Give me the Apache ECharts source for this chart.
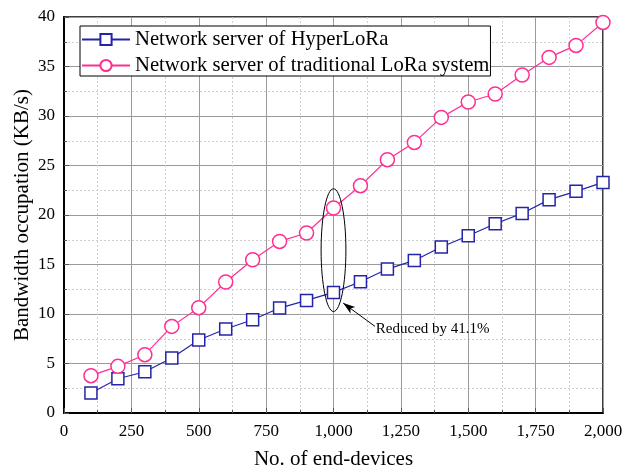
<!DOCTYPE html>
<html><head><meta charset="utf-8">
<script src="https://cdn.jsdelivr.net/npm/echarts@6/dist/echarts.min.js"></script>
<style>html,body{margin:0;padding:0;background:#fff}#c{width:634px;height:470px}</style>
</head><body><div id="c"></div>
<script>
const devices = [100,200,300,400,500,600,700,800,900,1000,1100,1200,1300,1400,1500,1600,1700,1800,1900,2000];
const hyperLoRa = [2.02,3.46,4.17,5.55,7.37,8.48,9.42,10.6,11.37,12.18,13.26,14.54,15.41,16.77,17.91,19.12,20.16,21.55,22.39,23.29];
const traditional = [3.77,4.71,5.89,8.75,10.64,13.23,15.48,17.33,18.18,20.71,22.96,25.59,27.33,29.86,31.41,32.22,34.14,35.92,37.13,39.45];
const seriesNames = ['Network server of HyperLoRa','Network server of traditional LoRa system'];
// annotation (data coordinates)
const ellipseCenter = [1000, 16.45];
const ellipseRadius = [46, 6.2];
const arrowFrom = [1154, 8.75];
const arrowTo = [1036, 11.1];
const noteText = 'Reduced by 41.1%';
const notePos = [1157, 8.5];

const FONT = "'Liberation Serif','Times New Roman',serif";
const chart = echarts.init(document.getElementById('c'), null, {renderer:'canvas'});
const fmt = v => v.toLocaleString('en-US');
const axisCommon = {
  axisLine:{show:true,lineStyle:{color:'#000',width:2}},
  axisTick:{show:true,inside:true,length:5,lineStyle:{color:'#555',width:1}},
  minorTick:{show:true,splitNumber:2,length:3,lineStyle:{color:'#555'}},
  splitLine:{show:true,lineStyle:{color:'#9a9a9a',width:1}},
  minorSplitLine:{show:true,lineStyle:{color:'#cfcfcf',width:1,type:[2,2]}},
  nameLocation:'middle',
  nameMoveOverlap:false,
  nameTextStyle:{fontFamily:FONT,fontSize:21,color:'#000'}
};
chart.setOption({
  animation:false,
  backgroundColor:'#fff',
  grid:{left:64,right:31,top:17,bottom:57,containLabel:false,outerBoundsMode:'none',show:true,borderColor:'#000',borderWidth:1.5,backgroundColor:'transparent'},
  legend:{
    left:80,top:26,orient:'vertical',itemWidth:48,itemHeight:14,itemGap:5,
    padding:[3,1,0,1],borderColor:'#000',borderWidth:1,backgroundColor:'#fff',
    textStyle:{fontFamily:FONT,fontSize:20.7,color:'#000'},
    data:seriesNames
  },
  xAxis:Object.assign({},axisCommon,{
    type:'value',min:0,max:2000,interval:250,name:'No. of end-devices',nameGap:36,
    axisLabel:{fontFamily:FONT,fontSize:17,color:'#000',margin:10,formatter:fmt}
  }),
  yAxis:Object.assign({},axisCommon,{
    type:'value',min:0,max:40,interval:5,name:'Bandwidth occupation (KB/s)',nameGap:31,
    axisLabel:{fontFamily:FONT,fontSize:17,color:'#000',margin:9}
  }),
  series:[
    {name:seriesNames[0],type:'line',data:devices.map((d,i)=>[d,hyperLoRa[i]]),
     symbol:'rect',symbolSize:12,color:'#2424a8',
     lineStyle:{width:1.2,color:'#2424a8'},itemStyle:{color:'#fff',borderColor:'#2424a8',borderWidth:1.5},z:3},
    {name:seriesNames[1],type:'line',data:devices.map((d,i)=>[d,traditional[i]]),
     symbol:'circle',symbolSize:14,color:'#ff2f92',
     lineStyle:{width:1.2,color:'#ff2f92'},itemStyle:{color:'#fff',borderColor:'#ff2f92',borderWidth:1.5},z:3,
     markLine:{silent:true,symbol:['none','arrow'],symbolSize:[6,12],label:{show:false},
       lineStyle:{color:'#000',width:1,type:'solid'},
       data:[[{coord:arrowFrom},{coord:arrowTo}]]}
    }
  ]
});
function drawAnno(){
  const c = chart.convertToPixel({gridIndex:0}, ellipseCenter);
  const e1 = chart.convertToPixel({gridIndex:0}, [ellipseCenter[0]+ellipseRadius[0], ellipseCenter[1]+ellipseRadius[1]]);
  const t = chart.convertToPixel({gridIndex:0}, notePos);
  chart.setOption({graphic:[
    {type:'ellipse',shape:{cx:c[0],cy:c[1],rx:Math.abs(e1[0]-c[0]),ry:Math.abs(c[1]-e1[1])},
     style:{fill:'none',stroke:'#000',lineWidth:1},z:10},
    {type:'text',x:t[0],y:t[1],style:{text:noteText,font:"15px "+FONT,fill:'#000',textVerticalAlign:'middle',textAlign:'left'},z:10}
  ]});
}
drawAnno();
</script></body></html>
